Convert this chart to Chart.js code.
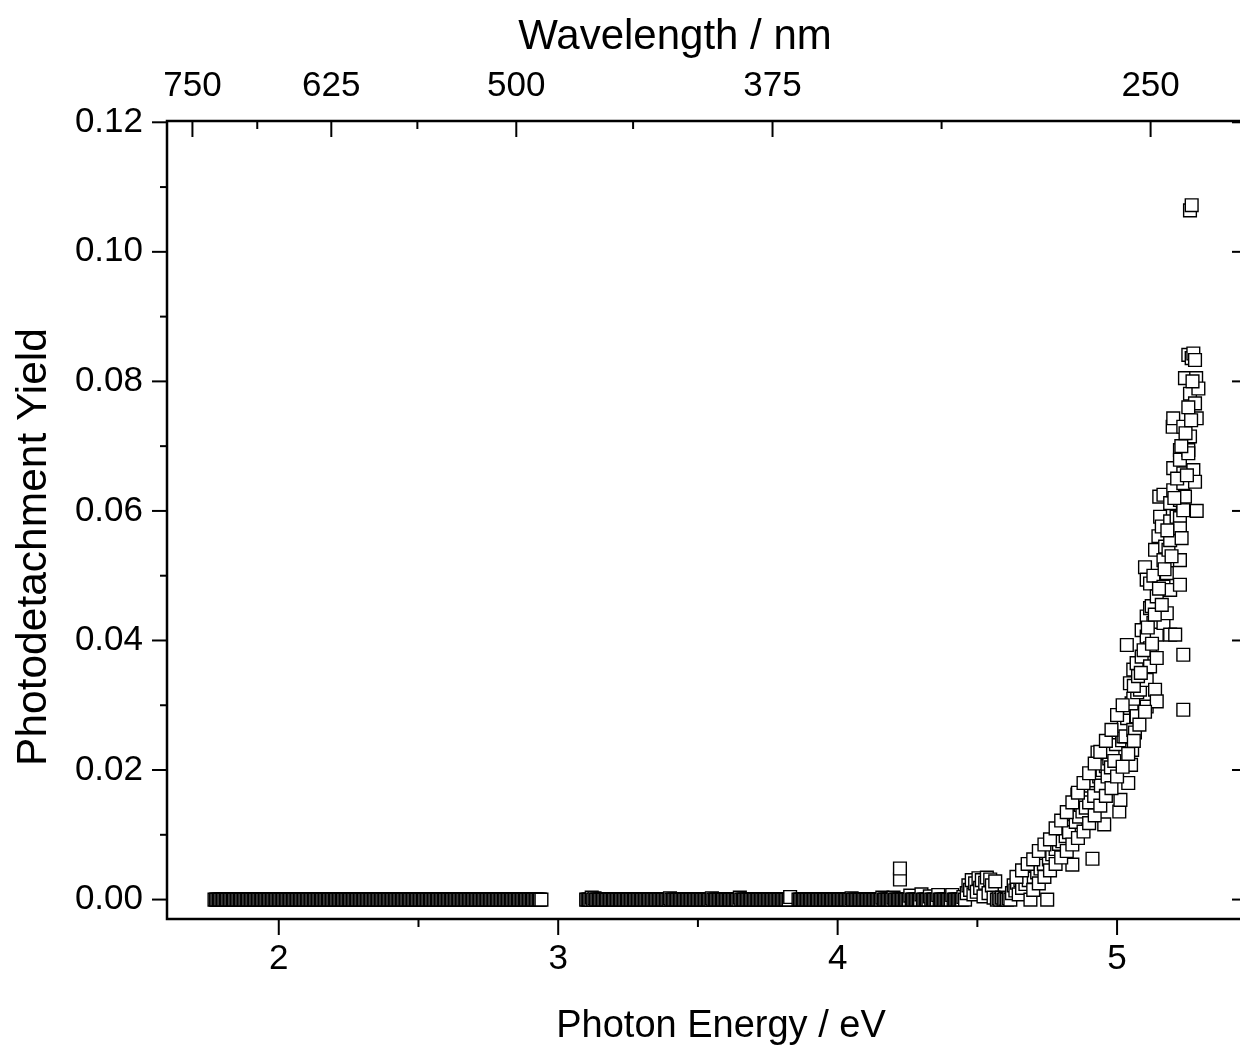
<!DOCTYPE html>
<html>
<head>
<meta charset="utf-8">
<title>Photodetachment Yield</title>
<script src="https://cdn.jsdelivr.net/npm/chart.js@4.4.1/dist/chart.umd.min.js"></script>
<style>
  html, body { margin: 0; padding: 0; background: #fff; overflow: hidden; }
  #wrap { width: 1240px; height: 1046px; overflow: hidden; }
  canvas { display: block; }
</style>
</head>
<body>
<div id="wrap"><canvas id="yieldChart" width="1262" height="1046"></canvas></div>
<script>
// visible-region scan, yield is zero all the way
const lowBandEnergy = [
  1.770,1.775,1.780,1.785,1.790,1.795,1.800,1.805,1.810,1.815,
  1.820,1.825,1.830,1.835,1.840,1.845,1.850,1.855,1.860,1.865,
  1.870,1.875,1.880,1.885,1.890,1.895,1.900,1.905,1.910,1.915,
  1.920,1.925,1.930,1.935,1.940,1.945,1.950,1.955,1.960,1.965,
  1.970,1.975,1.980,1.985,1.990,1.995,2.000,2.005,2.010,2.015,
  2.020,2.025,2.030,2.035,2.040,2.045,2.050,2.055,2.060,2.065,
  2.070,2.075,2.080,2.085,2.090,2.095,2.100,2.105,2.110,2.115,
  2.120,2.125,2.130,2.135,2.140,2.145,2.150,2.155,2.160,2.165,
  2.170,2.175,2.180,2.185,2.190,2.195,2.200,2.205,2.210,2.215,
  2.220,2.225,2.230,2.235,2.240,2.245,2.250,2.255,2.260,2.265,
  2.270,2.275,2.280,2.285,2.290,2.295,2.300,2.305,2.310,2.315,
  2.320,2.325,2.330,2.335,2.340,2.345,2.350,2.355,2.360,2.365,
  2.370,2.375,2.380,2.385,2.390,2.395,2.400,2.405,2.410,2.415,
  2.420,2.425,2.430,2.435,2.440,2.445,2.450,2.455,2.460,2.465,
  2.470,2.475,2.480,2.485,2.490,2.495,2.500,2.505,2.510,2.515,
  2.520,2.525,2.530,2.535,2.540,2.545,2.550,2.555,2.560,2.565,
  2.570,2.575,2.580,2.585,2.590,2.595,2.600,2.605,2.610,2.615,
  2.620,2.625,2.630,2.635,2.640,2.645,2.650,2.655,2.660,2.665,
  2.670,2.675,2.680,2.685,2.690,2.695,2.700,2.705,2.710,2.715,
  2.720,2.725,2.730,2.735,2.740,2.745,2.750,2.755,2.760,2.765,
  2.770,2.775,2.780,2.785,2.790,2.795,2.800,2.805,2.810,2.815,
  2.820,2.825,2.830,2.835,2.840,2.845,2.850,2.855,2.860,2.865,
  2.870,2.875,2.880,2.885,2.890,2.895,2.900,2.905,2.910,2.915,
  2.920,2.925,2.930,2.935,2.940
];
const lowBandYield = [
  0,0,0,0,0,0,0,0,0,0, 0,0,0,0,0,0,0,0,0,0,
  0,0,0,0,0,0,0,0,0,0, 0,0,0,0,0,0,0,0,0,0,
  0,0,0,0,0,0,0,0,0,0, 0,0,0,0,0,0,0,0,0,0,
  0,0,0,0,0,0,0,0,0,0, 0,0,0,0,0,0,0,0,0,0,
  0,0,0,0,0,0,0,0,0,0, 0,0,0,0,0,0,0,0,0,0,
  0,0,0,0,0,0,0,0,0,0, 0,0,0,0,0,0,0,0,0,0,
  0,0,0,0,0,0,0,0,0,0, 0,0,0,0,0,0,0,0,0,0,
  0,0,0,0,0,0,0,0,0,0, 0,0,0,0,0,0,0,0,0,0,
  0,0,0,0,0,0,0,0,0,0, 0,0,0,0,0,0,0,0,0,0,
  0,0,0,0,0,0,0,0,0,0, 0,0,0,0,0,0,0,0,0,0,
  0,0,0,0,0,0,0,0,0,0, 0,0,0,0,0,0,0,0,0,0,
  0,0,0,0,0,0,0,0,0,0,
  0,0,0,0,0
];

// UV scan below threshold
const midBandEnergy = [
  3.100,3.105,3.110,3.115,3.120,3.125,3.130,3.135,3.140,3.145,
  3.150,3.155,3.160,3.165,3.170,3.175,3.180,3.185,3.190,3.195,
  3.200,3.205,3.210,3.215,3.220,3.225,3.230,3.235,3.240,3.245,
  3.250,3.255,3.260,3.265,3.270,3.275,3.280,3.285,3.290,3.295,
  3.300,3.305,3.310,3.315,3.320,3.325,3.330,3.335,3.340,3.345,
  3.350,3.355,3.360,3.365,3.370,3.375,3.380,3.385,3.390,3.395,
  3.400,3.405,3.410,3.415,3.420,3.425,3.430,3.435,3.440,3.445,
  3.450,3.455,3.460,3.465,3.470,3.475,3.480,3.485,3.490,3.495,
  3.500,3.505,3.510,3.515,3.520,3.525,3.530,3.535,3.540,3.545,
  3.550,3.555,3.560,3.565,3.570,3.575,3.580,3.585,3.590,3.595,
  3.600,3.605,3.610,3.615,3.620,3.625,3.630,3.635,3.640,3.645,
  3.650,3.655,3.660,3.665,3.670,3.675,3.680,3.685,3.690,3.695,
  3.700,3.705,3.710,3.715,3.720,3.725,3.730,3.735,3.740,3.745,
  3.750,3.755,3.760,3.765,3.770,3.775,3.780,3.785,3.790,3.795,
  3.800,3.805,3.810,3.815,3.820,3.825,3.830,3.860,3.865,3.870,
  3.875,3.880,3.885,3.890,3.895,3.900,3.905,3.910,3.915,3.920,
  3.925,3.930,3.935,3.940,3.945,3.950,3.955,3.960,3.965,3.970,
  3.975,3.980,3.985,3.990,3.995,4.000,4.005,4.010,4.015,4.020,
  4.025,4.030,4.035,4.040,4.045,4.050,4.055,4.060,4.065,4.070,
  4.075,4.080,4.085,4.090,4.095,4.100,4.105,4.110,4.115,4.120,
  4.125,4.130,4.135,4.140,4.145,4.150,4.155,4.160,4.165,4.170,
  4.175,4.180,4.185,4.190,4.195,4.200,4.205,4.210,4.215,4.220,
  4.225,4.230,4.235,4.240,4.245,4.250,4.255,4.260,4.265,4.270,
  4.275,4.280,4.285,4.290,4.295,4.300,4.305,4.310,4.315,4.320,
  4.325,4.330,4.335,4.340,4.345,4.350,4.355,4.360,4.365,4.370,
  4.375,4.380,4.385,4.390,4.395,4.400,4.405,4.410,4.415,4.420,
  4.425,4.430,4.435,4.440,4.445
];
const midBandYield = [
  0,0,0,0,0.0003,0,0.0002,0,0,0,
  0,0,0,0,0,0,0,0,0,0,
  0,0,0,0,0,0,0,0,0,0,
  0,0,0,0,0,0,0,0,0,0,
  0,0,0,0,0,0,0,0,0,0,
  0,0,0,0,0,0,0,0,0,0,
  0.0002,0,0,0,0,0,0,0,0,0,
  0,0,0,0,0,0,0,0,0,0,
  0,0,0,0,0,0,0,0,0,0,
  0.0002,0,0,0,0,0,0,0,0,0,
  0,0,0,0,0,0,0,0,0,0,
  0.0003,0,0,0,0,0,0,0,0,0,
  0,0,0,0,0,0,0,0,0,0,
  0,0,0,0,0,0,0,0,0,0,
  0,0,0,0,0,0,0.0004,0,0,0,
  0,0,0,0,0,0,0,0,0,0,
  0,0,0,0,0,0,0,0,0,0,
  0,0,0,0,0,0,0,0,0,0,
  0,0,0,0,0,0.0002,0,0,0,0,
  0,0,0,0,0,0,0,0,0,0,
  0,0,0,0,0,0,0,0.0003,0,0,
  0,0,0,0,0,0.0003,0,0,0,0,
  0,0,0,0,0,0,0,0.0006,0,0,
  0,0,0,0,0,0.0008,0,0,0,0,
  0,0.0005,0,0,0,0,0,0.0007,0,0,
  0,0,0,0,0,0,0,0.0007,0,0,
  0,0,0,0,0
];

// two isolated points standing above the baseline
const spikeEnergy = [4.223, 4.223];
const spikeYield = [0.0031, 0.0048];

// detachment onset and rise
const riseEnergy = [
  4.450,4.456,4.462,4.468,4.474,4.480,4.486,4.492,4.498,4.504,
  4.510,4.516,4.522,4.528,4.534,4.540,4.546,4.552,4.558,4.564,
  4.570,4.576,4.582,4.588,4.594,4.600,4.606,4.612,4.618,4.624,
  4.630,4.636,4.642,4.648,4.654,4.660,4.666,4.672,4.678,4.684,
  4.690,4.696,4.702,4.708,4.714,4.720,4.726,4.732,4.738,4.744,
  4.750,4.756,4.762,4.768,4.774,4.780,4.786,4.792,4.798,4.804,
  4.810,4.816,4.822,4.828,4.834,4.840,4.846,4.852,4.858,4.864,
  4.870,4.876,4.882,4.888,4.894,4.900,4.906,4.912,4.918,4.924,
  4.930,4.936,4.942,4.948,4.954,4.960,4.966,4.972,4.978,4.984,
  4.990,4.996,5.002,5.008,5.012,5.018,5.023,5.024,5.030,5.035,
  5.036,5.040,5.046,5.046,5.050,5.052,5.054,5.058,5.058,5.058,
  5.064,5.068,5.070,5.070,5.072,5.082,5.088,5.088,5.100,5.106,
  5.106,5.106,5.106,5.106,5.118,5.118,5.118,5.118,5.124,5.130,
  5.130,5.136,5.136,5.142,5.142,5.142,5.142,5.148,5.151,5.154,
  5.160,5.166,5.166,5.166,5.166,5.172,5.178,5.178,5.184,5.190,
  5.190,5.190,5.190,5.190,5.199,5.201,5.201,5.201,5.208,5.213,
  5.225,5.225,5.225,5.225,5.225,5.225,5.225,5.231,5.237,5.237,
  5.237,5.237,5.237,5.237,5.243,5.243,5.255,5.255,5.255,5.261,
  5.261,5.261,5.267,5.267,5.273,5.273,5.279,5.279,5.279,5.283,
  5.285,5.285,5.291
];
const riseYield = [
  0.0004,0.0000,0.0010,0.0022,0.0015,0.0030,0.0008,0.0025,0.0012,0.0033,
  0.0018,0.0030,0.0005,0.0026,0.0034,0.0010,0.0031,0.0022,0.0003,0.0028,
  0.0000,0.0002,0.0000,0.0003,0.0000,0.0001,0.0000,0.0002,0.0000,0.0010,
  0.0022,0.0014,0.0026,0.0008,0.0030,0.0018,0.0036,0.0024,0.0040,0.0030,
  0.0000,0.0046,0.0035,0.0052,0.0042,0.0060,0.0048,0.0066,0.0055,0.0072,
  0.0000,0.0062,0.0080,0.0070,0.0092,0.0078,0.0098,0.0086,0.0104,0.0090,
  0.0110,0.0098,0.0116,0.0104,0.0124,0.0054,0.0132,0.0120,0.0162,0.0128,
  0.0146,0.0136,0.0156,0.0142,0.0166,0.0150,0.0176,0.0063,0.0160,0.0184,
  0.0227,0.0190,0.0176,0.0200,0.0116,0.0206,0.0190,0.0218,0.0204,0.0228,
  0.0214,0.0240,0.0258,0.0136,0.0154,0.0246,0.0252,0.0268,0.0252,0.0393,
  0.0280,0.0180,0.0296,0.0334,0.0208,0.0303,0.0231,0.0310,0.0355,0.0262,
  0.0258,0.0282,0.0365,0.0283,0.0320,0.0324,0.0416,0.0375,0.0513,0.0494,
  0.0437,0.0406,0.0339,0.0298,0.0488,0.0450,0.0388,0.0360,0.0453,0.0500,
  0.0427,0.0324,0.0540,0.0468,0.0409,0.0373,0.0306,0.0561,0.0622,0.0591,
  0.0576,0.0625,0.0524,0.0483,0.0427,0.0545,0.0504,0.0442,0.0540,0.0612,
  0.0584,0.0555,0.0478,0.0409,0.0730,0.0743,0.0666,0.0632,0.0409,0.0591,
  0.0694,0.0679,0.0617,0.0589,0.0573,0.0524,0.0486,0.0558,0.0730,0.0658,
  0.0643,0.0601,0.0378,0.0293,0.0805,0.0622,0.0841,0.0694,0.0689,0.1064,
  0.0781,0.0715,0.1072,0.0836,0.0843,0.0663,0.0833,0.0766,0.0645,0.0805,
  0.0743,0.0600,0.0789
];

// repeat scan over the rise, overlapping the first one
const repeatEnergy = [
  4.640,4.660,4.680,4.700,4.700,4.720,4.720,4.740,4.740,4.760,
  4.760,4.780,4.780,4.800,4.800,4.820,4.820,4.840,4.840,4.860,
  4.860,4.880,4.880,4.900,4.900,4.920,4.920,4.940,4.940,4.960,
  4.960,4.980,4.980,5.000,5.000,5.020,5.020,5.040,5.060,5.060,
  5.075,5.080,5.085,5.095,5.100,5.110,5.125,5.135,5.150,5.160,
  5.170,5.180,5.195,5.205,5.215,5.230,5.245,5.250,5.255,5.265,
  5.270
];
const repeatYield = [
  0.0035,0.0045,0.0055,0.0062,0.0015,0.0075,0.0025,0.0085,0.0035,0.0093,
  0.0045,0.0110,0.0055,0.0122,0.0065,0.0135,0.0075,0.0150,0.0085,0.0165,
  0.0095,0.0180,0.0105,0.0195,0.0118,0.0210,0.0130,0.0228,0.0145,0.0245,
  0.0160,0.0262,0.0172,0.0285,0.0190,0.0300,0.0205,0.0225,0.0330,0.0245,
  0.0345,0.0270,0.0350,0.0385,0.0290,0.0420,0.0395,0.0440,0.0480,0.0455,
  0.0510,0.0570,0.0530,0.0620,0.0650,0.0700,0.0720,0.0655,0.0760,0.0740,
  0.0800
];

// axes
const energyRange = [1.6, 5.465];
const yieldRange = [-0.003, 0.1202];
const energyMajor = [2, 3, 4, 5];
const energyMinor = [2.5, 3.5, 4.5];
const yieldMajor = [0, 0.02, 0.04, 0.06, 0.08, 0.10, 0.12];
const yieldMinor = [0.01, 0.03, 0.05, 0.07, 0.09, 0.11];
const wavelengthLabels = ["750", "625", "500", "375", "250"];
const wavelengthAt = [1.691, 2.188, 2.850, 3.767, 5.120]; // photon energy where each top tick sits
const wavelengthMinorAt = [1.923, 2.496, 3.268, 4.372];

const FONT = "'Liberation Sans', Arial, sans-serif";

function toPoints(xs, ys) {
  return xs.map((x, i) => ({ x: x, y: ys[i] }));
}

const points = [
  ...toPoints(lowBandEnergy, lowBandYield),
  ...toPoints(midBandEnergy, midBandYield),
  ...toPoints(spikeEnergy, spikeYield),
  ...toPoints(riseEnergy, riseYield),
  ...toPoints(repeatEnergy, repeatYield),
];

// frame, tick marks (out on left/bottom, in on top/right) and axis titles
const axisFrame = {
  id: "axisFrame",
  afterDraw(chart) {
    const { ctx, chartArea: a, scales } = chart;
    const sx = scales.x, st = scales.x2, sy = scales.y;
    const seg = (x1, y1, x2, y2) => {
      ctx.beginPath();
      ctx.moveTo(x1, y1);
      ctx.lineTo(x2, y2);
      ctx.stroke();
    };
    ctx.save();
    ctx.strokeStyle = "#000";
    ctx.lineWidth = 2;
    energyMajor.forEach((v) => { const p = sx.getPixelForValue(v); seg(p, a.bottom, p, a.bottom + 16); });
    energyMinor.forEach((v) => { const p = sx.getPixelForValue(v); seg(p, a.bottom, p, a.bottom + 8); });
    wavelengthAt.forEach((v) => { const p = st.getPixelForValue(v); seg(p, a.top, p, a.top + 16); });
    wavelengthMinorAt.forEach((v) => { const p = st.getPixelForValue(v); seg(p, a.top, p, a.top + 8); });
    yieldMajor.forEach((v) => {
      const p = sy.getPixelForValue(v);
      seg(a.left - 15, p, a.left, p);
      seg(a.right - 15, p, a.right, p);
    });
    yieldMinor.forEach((v) => {
      const p = sy.getPixelForValue(v);
      seg(a.left - 7, p, a.left, p);
      seg(a.right - 7, p, a.right, p);
    });
    ctx.lineWidth = 2.5;
    ctx.strokeRect(a.left, a.top, a.right - a.left, a.bottom - a.top);

    ctx.fillStyle = "#000";
    ctx.textAlign = "center";
    ctx.textBaseline = "alphabetic";
    ctx.font = "42px " + FONT;
    ctx.fillText("Wavelength / nm", 675, 49);
    ctx.font = "38px " + FONT;
    ctx.fillText("Photon Energy / eV", 721, 1037);
    ctx.translate(46, 547);
    ctx.rotate(-Math.PI / 2);
    ctx.font = "42.5px " + FONT;
    ctx.fillText("Photodetachment Yield", 0, 0);
    ctx.restore();
  },
};

const tickFont = { family: FONT, size: 35 };

new Chart(document.getElementById("yieldChart"), {
  type: "scatter",
  data: {
    datasets: [
      {
        data: points,
        pointStyle: "rect",
        pointRadius: 9,
        pointBorderWidth: 1.4,
        pointBackgroundColor: "#fff",
        pointBorderColor: "#000",
      },
    ],
  },
  options: {
    responsive: false,
    animation: false,
    events: [],
    layout: { padding: { left: 0, top: 0, bottom: 0, right: 15 } },
    plugins: { legend: { display: false }, tooltip: { enabled: false } },
    scales: {
      x: {
        type: "linear",
        position: "bottom",
        min: energyRange[0],
        max: energyRange[1],
        grid: { display: false, drawTicks: false },
        border: { display: false },
        afterBuildTicks: (s) => { s.ticks = energyMajor.map((v) => ({ value: v })); },
        afterFit: (s) => { s.height = 127; },
        ticks: { font: tickFont, color: "#000", padding: 19, maxRotation: 0, autoSkip: false, callback: (v) => String(v) },
      },
      x2: {
        type: "linear",
        position: "top",
        min: energyRange[0],
        max: energyRange[1],
        grid: { display: false, drawTicks: false },
        border: { display: false },
        afterBuildTicks: (s) => { s.ticks = wavelengthAt.map((v) => ({ value: v })); },
        afterFit: (s) => { s.height = 121; },
        ticks: { font: tickFont, color: "#000", padding: 14, maxRotation: 0, autoSkip: false, callback: (v, i) => wavelengthLabels[i] },
      },
      y: {
        type: "linear",
        position: "left",
        min: yieldRange[0],
        max: yieldRange[1],
        grid: { display: false, drawTicks: false },
        border: { display: false },
        afterBuildTicks: (s) => { s.ticks = yieldMajor.map((v) => ({ value: v })); },
        afterFit: (s) => { s.width = 167; },
        ticks: { font: tickFont, color: "#000", padding: 24, autoSkip: false, callback: (v) => v.toFixed(2) },
      },
    },
  },
  plugins: [axisFrame],
});
</script>
</body>
</html>
